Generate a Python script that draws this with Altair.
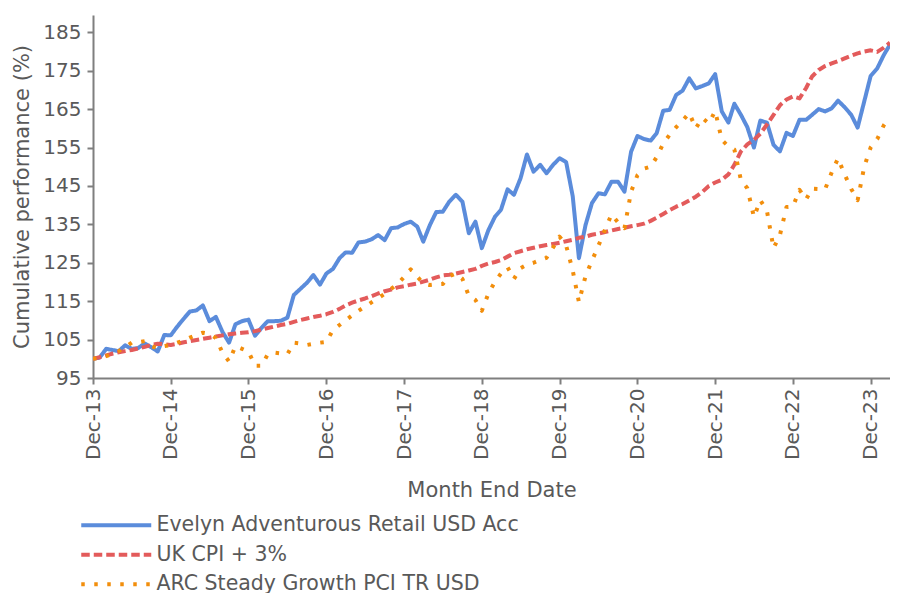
import altair as alt
import pandas as pd

# Monthly dates (categories)
dates = pd.date_range("2013-12-01", periods=124, freq="MS").strftime("%Y-%m-%d").tolist()

series_names = ["Evelyn Adventurous Retail USD Acc", "UK CPI + 3%", "ARC Steady Growth PCI TR USD"]

evelyn = [
    100.0, 100.3, 102.6, 102.3, 102.0, 103.5, 102.6, 102.8, 104.0, 103.0,
    101.9, 106.2, 106.1, 108.4, 110.5, 112.3, 112.6, 113.9, 109.8, 110.9,
    107.0, 104.2, 109.0, 109.8, 110.2, 106.0, 108.1, 109.8, 109.8, 109.9,
    110.7, 116.6, 118.2, 119.8, 121.8, 119.3, 122.2, 123.4, 126.2, 127.7,
    127.6, 130.3, 130.5, 131.1, 132.2, 130.9, 134.0, 134.2, 135.1, 135.7,
    134.4, 130.5, 134.8, 138.2, 138.3, 140.9, 142.7, 140.9, 132.7, 135.7,
    128.8, 133.5, 137.0, 138.8, 144.1, 142.7, 147.0, 153.2, 148.7, 150.5,
    148.3, 150.5, 152.2, 151.2, 142.3, 126.2, 134.8, 140.5, 143.1, 142.8,
    146.1, 146.1, 143.5, 153.9, 158.0, 157.2, 156.8, 158.7, 164.6, 164.8,
    168.7, 169.8, 173.0, 170.4, 171.0, 171.7, 174.1, 164.4, 161.5, 166.4,
    163.5, 160.3, 155.0, 162.0, 161.5, 155.7, 154.0, 158.8, 158.0, 162.2,
    162.2, 163.5, 165.0, 164.4, 165.2, 167.2, 165.5, 163.5, 160.2, 167.0,
    173.6, 175.6, 179.1, 181.8,
]

uk_cpi = [
    100.0, 100.4, 100.9, 101.3, 101.7, 102.0, 102.3, 102.7, 103.1, 103.6,
    103.9, 103.8, 103.6, 103.9, 104.3, 104.6, 104.9, 105.2, 105.5, 105.8,
    106.1, 106.4, 106.6, 106.8, 106.9, 107.2, 107.6, 108.0, 108.4, 108.8,
    109.1, 109.6, 110.1, 110.5, 110.9, 111.2, 111.6, 112.2, 113.0, 113.9,
    114.6, 115.2, 115.7, 116.3, 117.0, 117.6, 118.0, 118.6, 118.9, 119.3,
    119.6, 120.1, 120.6, 121.2, 121.7, 121.9, 122.2, 122.6, 123.0, 123.4,
    124.2, 124.8, 125.2, 125.7, 126.6, 127.5, 128.0, 128.5, 128.9, 129.3,
    129.6, 129.9, 130.2, 130.6, 131.0, 131.5, 131.8, 132.3, 132.6, 133.0,
    133.4, 133.8, 134.1, 134.5, 134.8, 135.2, 135.9, 136.7, 137.7, 138.7,
    139.6, 140.3, 141.2, 142.2, 143.4, 145.0, 145.9, 146.6, 148.0, 150.5,
    154.0, 155.8, 157.0, 158.6, 161.0, 163.5, 166.0, 167.5, 168.3, 167.8,
    170.5, 173.5, 175.2, 176.2, 176.9, 177.5, 178.2, 178.9, 179.5, 180.0,
    180.3, 179.9, 181.0, 182.3,
]

arc = [
    100.0, 100.3, 100.7, 101.3, 102.0, 103.0, 104.2, 104.3, 104.6, 103.3,
    102.7, 103.3, 103.6, 104.2, 104.8, 105.5, 106.2, 106.8, 106.5, 105.4,
    101.6, 99.3, 103.3, 102.6, 101.9, 98.2, 98.2, 101.2, 101.6, 101.4,
    101.2, 104.2, 104.0, 103.6, 103.9, 104.2, 104.4, 107.5, 108.8, 110.0,
    111.3, 112.5, 113.6, 114.7, 115.8, 116.9, 118.2, 119.5, 121.3, 123.3,
    121.4, 119.6, 119.2, 119.4, 119.5, 121.5, 122.2, 120.8, 116.4, 115.3,
    112.5, 117.0, 120.1, 122.2, 123.8, 120.8, 123.6, 124.5, 125.0, 125.7,
    126.3, 129.0, 131.8, 129.5, 123.0, 114.8, 121.5, 125.5, 129.5, 133.5,
    137.6, 135.5, 134.0, 143.5, 147.8, 149.5, 150.0, 152.5, 156.0, 158.3,
    160.3, 162.0, 164.0, 160.0, 162.7, 161.3, 164.5, 157.0, 155.3, 154.5,
    146.5, 144.4, 136.9, 141.3, 138.5, 128.8, 132.2, 139.5, 139.6, 144.0,
    141.5, 144.3, 144.2, 144.1, 148.5, 152.2, 148.0, 144.2, 141.3, 150.0,
    155.0, 157.2, 160.8, 163.0,
]

colors = ["#5B8CDB", "#E35B5B", "#F28E0C"]
dashes = [[1, 0], [8.5, 4], [3.5, 9.5]]
y_ticks = [95, 105, 115, 125, 135, 145, 155, 165, 175, 185]
x_tick_years = list(range(2013, 2024))

rows = []
for name, vals in zip(series_names, [evelyn, uk_cpi, arc]):
    for d, v in zip(dates, vals):
        rows.append({"series": name, "date": d, "value": v})
df = pd.DataFrame(rows)

FONT = "DejaVu Sans"
TXT = "#595959"
AX = "#7F7F7F"

legend = alt.Legend(
    title=None,
    orient="none",
    legendX=13,
    legendY=500,
    symbolType="M-5,0L5,0",
    symbolSize=196,
    symbolStrokeWidth=4,
    labelFontSize=20.5,
    labelFont=FONT,
    labelColor=TXT,
    labelOffset=30,
    rowPadding=8.5,
    labelLimit=700,
)

chart = alt.Chart(df).mark_line(
    strokeWidth=4, strokeJoin="round", clip=True
).encode(
    x=alt.X(
        "date:T",
        scale=alt.Scale(
            type="utc",
            domain=[alt.DateTime(year=2013, month=12, date=1, utc=True),
                    alt.DateTime(year=2024, month=3, date=1, utc=True)],
            nice=False,
        ),
        axis=alt.Axis(
            values=[alt.DateTime(year=y, month=12, date=1, utc=True) for y in x_tick_years],
            format="%b-%y",
            labelAngle=-90,
            labelAlign="right",
            labelBaseline="middle",
            labelFontSize=20,
            labelFont=FONT,
            labelColor=TXT,
            labelPadding=4,
            tickSize=6,
            tickColor=AX,
            tickWidth=2,
            domainColor=AX,
            domainWidth=2,
            grid=False,
            title="Month End Date",
            titleFont=FONT,
            titleFontSize=21,
            titleFontWeight="normal",
            titleColor=TXT,
            titlePadding=20,
        ),
    ),
    y=alt.Y(
        "value:Q",
        scale=alt.Scale(domain=[95, 189.5], nice=False, zero=False),
        axis=alt.Axis(
            values=y_ticks,
            labelFontSize=20,
            labelFont=FONT,
            labelColor=TXT,
            labelPadding=6,
            tickSize=6,
            tickColor=AX,
            tickWidth=2,
            domainColor=AX,
            domainWidth=2,
            grid=False,
            title="Cumulative performance (%)",
            titleFont=FONT,
            titleFontSize=21,
            titleFontWeight="normal",
            titleColor=TXT,
            titlePadding=10,
        ),
    ),
    color=alt.Color("series:N", scale=alt.Scale(domain=series_names, range=colors), legend=legend),
    strokeDash=alt.StrokeDash("series:N", scale=alt.Scale(domain=series_names, range=dashes), legend=legend),
).properties(
    width=797,
    height=363,
    autosize=alt.AutoSizeParams(type="none"),
    padding={"left": 85, "top": 7, "right": 0, "bottom": 215},
).configure_view(stroke=None)

chart.save("out.html", embed_options={"renderer": "svg", "actions": False})
